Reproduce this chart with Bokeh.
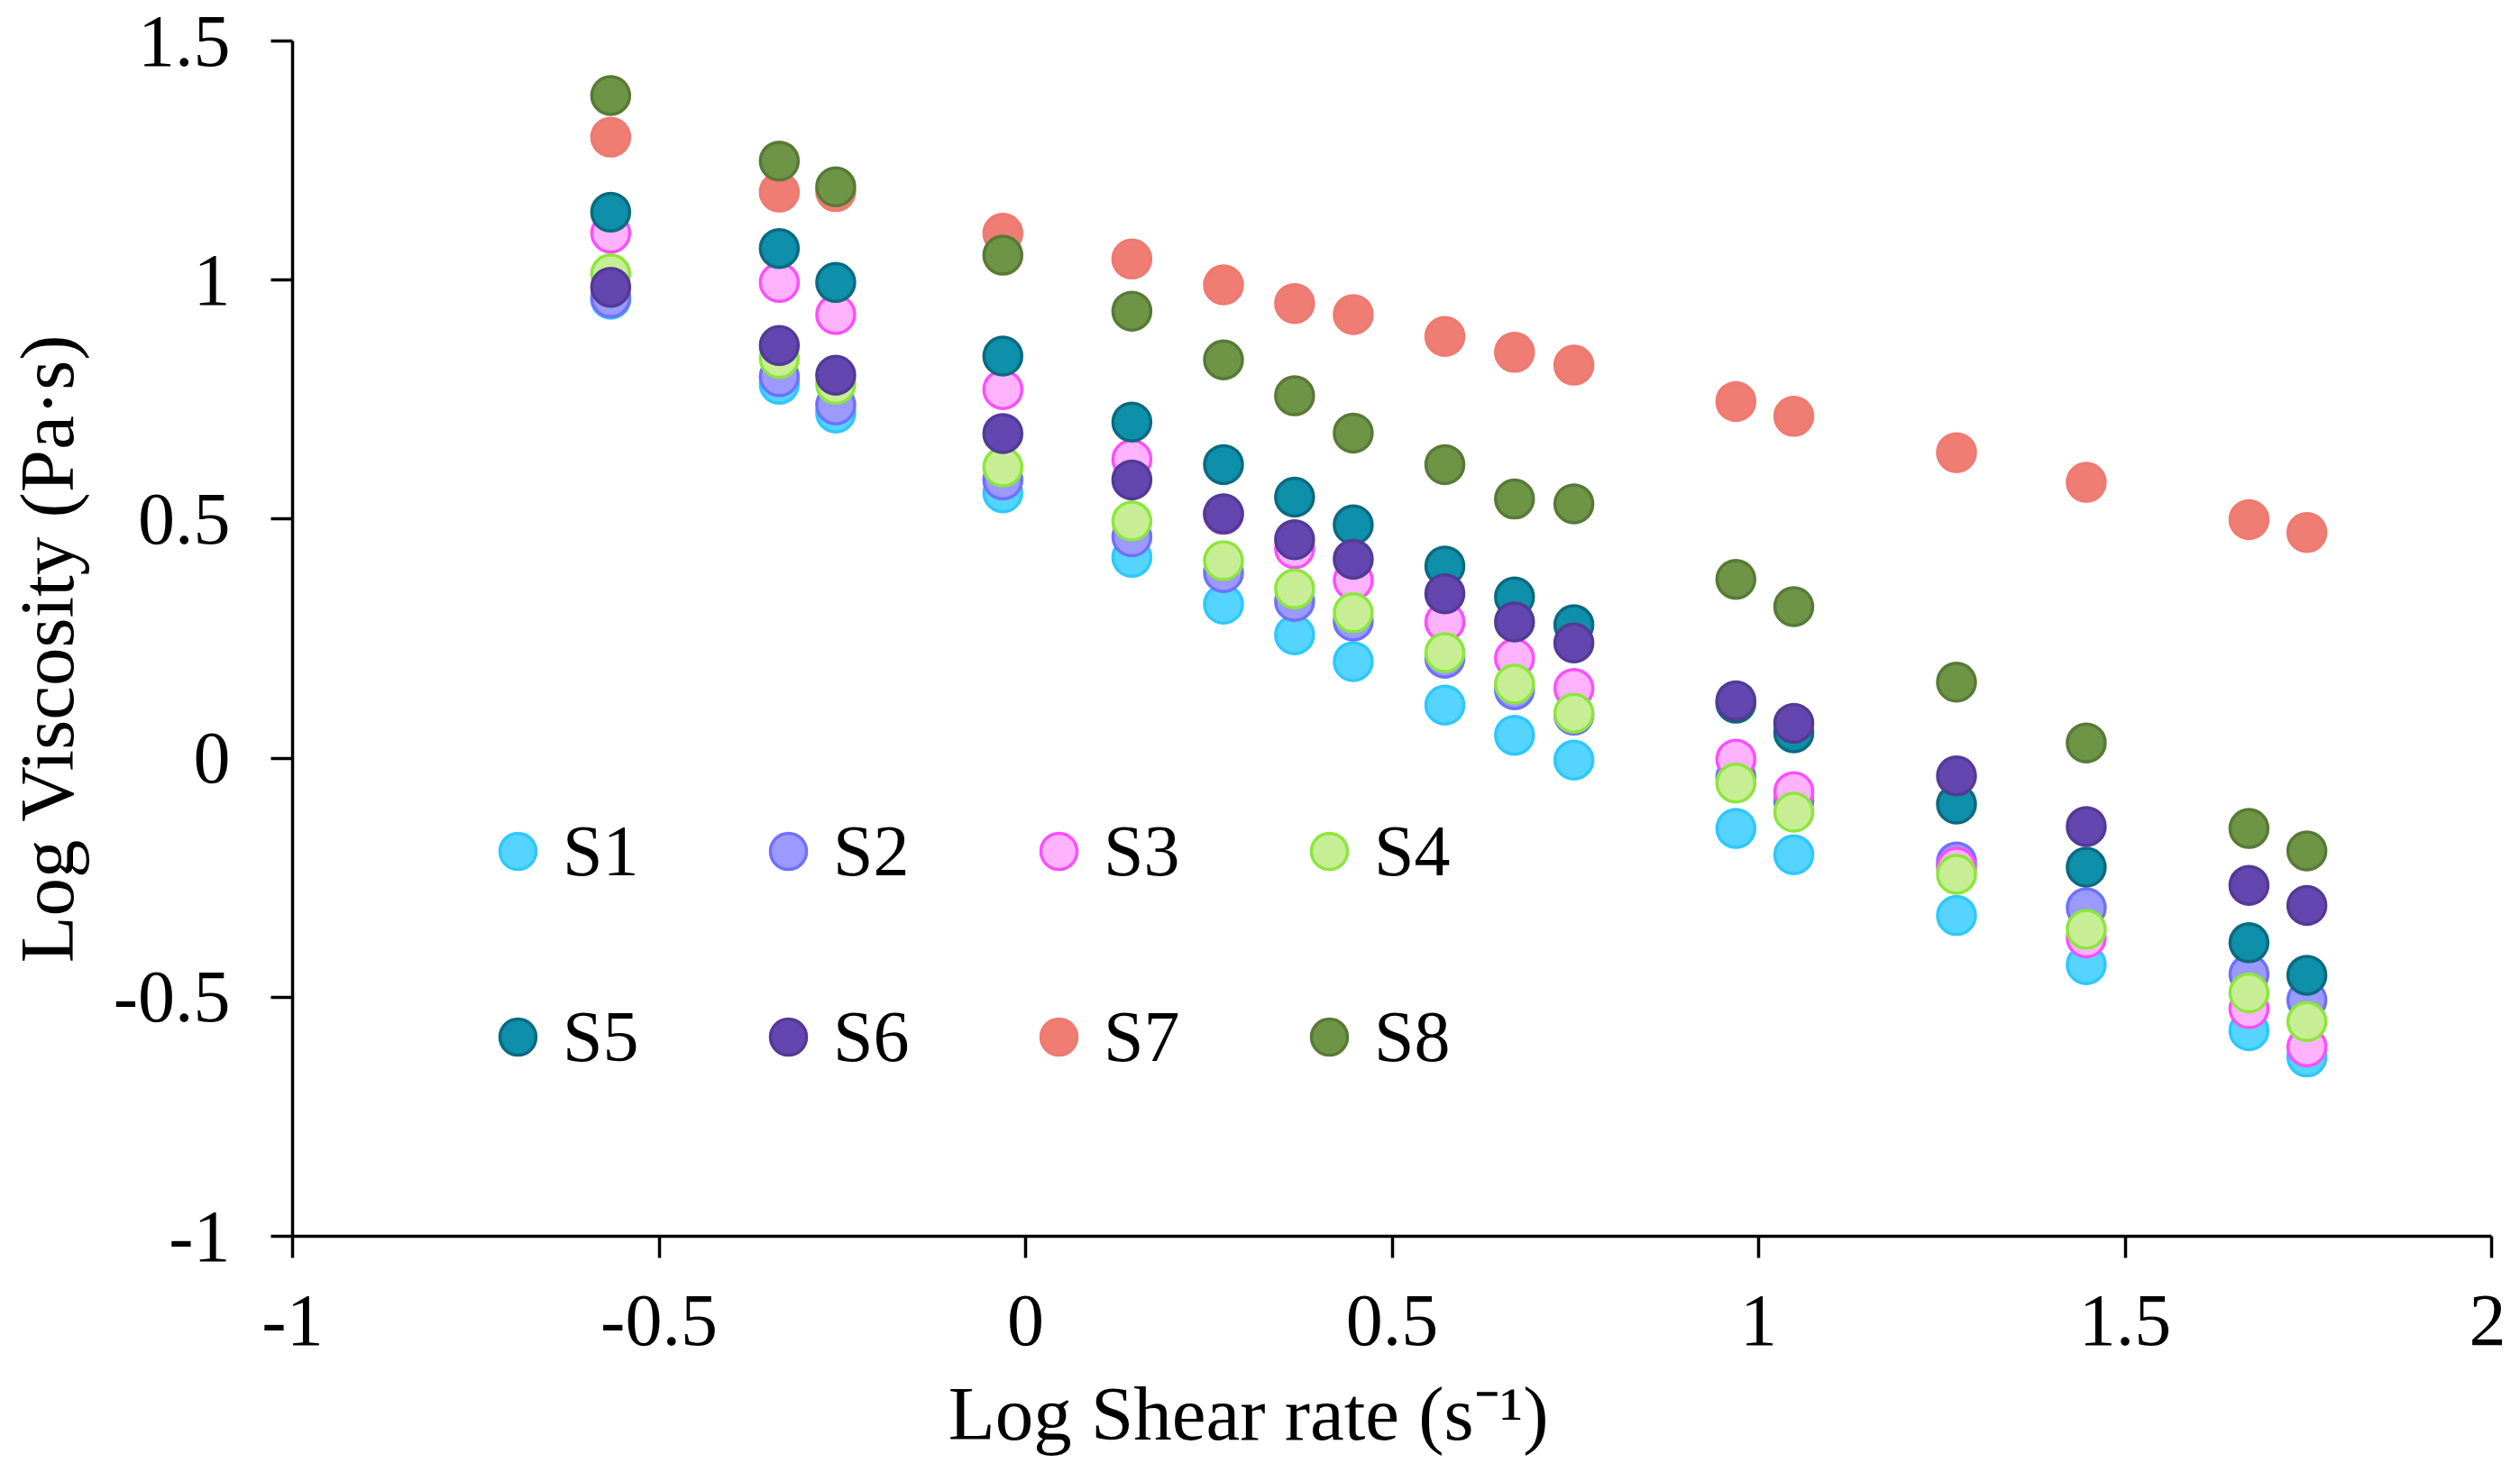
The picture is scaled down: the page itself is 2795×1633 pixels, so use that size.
from bokeh.plotting import figure
from bokeh.models import Legend, LegendItem, FixedTicker
from bokeh.embed import file_html
from bokeh.resources import INLINE

# Log shear rate (s^-1), shared by all samples
LOG_SHEAR = [-0.566, -0.336, -0.259, -0.031, 0.145, 0.270, 0.367, 0.447, 0.572,
             0.667, 0.748, 0.969, 1.048, 1.270, 1.447, 1.669, 1.748]

# Log viscosity (Pa·s) per sample
S1 = [0.960, 0.782, 0.722, 0.555, 0.420, 0.322, 0.258, 0.202, 0.111,
      0.048, -0.004, -0.147, -0.202, -0.329, -0.432, -0.570, -0.625]
S2 = [0.963, 0.798, 0.739, 0.582, 0.463, 0.388, 0.328, 0.287, 0.209,
      0.143, 0.090, -0.040, -0.090, -0.217, -0.313, -0.452, -0.506]
S3 = [1.098, 0.995, 0.928, 0.771, 0.625, 0.510, 0.438, 0.372, 0.285,
      0.209, 0.146, -0.002, -0.070, -0.228, -0.376, -0.524, -0.604]
S4 = [1.013, 0.836, 0.782, 0.609, 0.496, 0.413, 0.354, 0.304, 0.221,
      0.155, 0.094, -0.052, -0.113, -0.243, -0.358, -0.491, -0.551]
S5 = [1.142, 1.066, 0.995, 0.841, 0.703, 0.614, 0.546, 0.488, 0.402,
      0.337, 0.279, 0.115, 0.053, -0.096, -0.228, -0.386, -0.454]
S6 = [0.985, 0.863, 0.801, 0.679, 0.582, 0.511, 0.457, 0.416, 0.344,
      0.285, 0.241, 0.120, 0.073, -0.037, -0.143, -0.266, -0.308]
S7 = [1.299, 1.184, 1.185, 1.098, 1.044, 0.990, 0.951, 0.928, 0.882,
      0.849, 0.822, 0.746, 0.715, 0.639, 0.577, 0.499, 0.472]
S8 = [1.386, 1.249, 1.195, 1.052, 0.935, 0.833, 0.758, 0.680, 0.614,
      0.542, 0.532, 0.374, 0.317, 0.159, 0.032, -0.147, -0.194]

NAMES = ["S1", "S2", "S3", "S4", "S5", "S6", "S7", "S8"]
VALUES = [S1, S2, S3, S4, S5, S6, S7, S8]
FILLS = ["#55D4FF", "#9A9AFF", "#FFB3FF", "#C8EE95",
         "#0E8FAA", "#6446B0", "#F07D74", "#6E9446"]
LINES = ["#2EC8FF", "#7070FF", "#FF4DFF", "#8CE63C",
         "#0A6A80", "#523A96", "#EE7A70", "#587A36"]

X_TICKS = [-1, -0.5, 0, 0.5, 1, 1.5, 2]
X_TICK_LABELS = ["-1", "-0.5", "0", "0.5", "1", "1.5", "2"]
Y_TICKS = [-1, -0.5, 0, 0.5, 1, 1.5]
Y_TICK_LABELS = ["-1", "-0.5", "0", "0.5", "1", "1.5"]

FONT = "Liberation Serif"
NBSP = "\u00a0"

p = figure(width=2779, height=1617,
           x_range=(-1, 2), y_range=(-1, 1.5),
           output_backend="svg", toolbar_location=None, tools="",
           min_border_left=324, min_border_right=16,
           min_border_top=45, min_border_bottom=246)
p.outline_line_color = None
p.grid.visible = False
p.background_fill_color = "white"

renderers = []
for name, ys, fc, lc in zip(NAMES, VALUES, FILLS, LINES):
    r = p.scatter(LOG_SHEAR, ys, size=42, marker="circle",
                  fill_color=fc, line_color=lc, line_width=3.5)
    renderers.append(r)

p.xaxis.ticker = FixedTicker(ticks=X_TICKS)
p.yaxis.ticker = FixedTicker(ticks=Y_TICKS)
p.xaxis.major_label_overrides = {float(t): s for t, s in zip(X_TICKS, X_TICK_LABELS)}
p.yaxis.major_label_overrides = {float(t): s for t, s in zip(Y_TICKS, Y_TICK_LABELS)}

for ax in (p.xaxis[0], p.yaxis[0]):
    ax.axis_line_width = 3.5
    ax.axis_line_color = "black"
    ax.major_tick_line_width = 3.5
    ax.major_tick_line_color = "black"
    ax.major_tick_out = 24
    ax.major_tick_in = 0
    ax.minor_tick_out = 0
    ax.minor_tick_in = 0
    ax.major_label_text_font = FONT
    ax.major_label_text_font_size = "82px"
    ax.major_label_text_color = "black"
    ax.axis_label_text_font = FONT
    ax.axis_label_text_font_size = "85px"
    ax.axis_label_text_font_style = "normal"
    ax.axis_label_text_color = "black"

p.xaxis.major_label_standoff = 42
p.yaxis.major_label_standoff = 45

p.yaxis.axis_label = "Log Viscosity (Pa·s)" + NBSP
p.yaxis.axis_label_standoff = 24

# the original title sits left of the axis centre; trailing spaces shift it
p.xaxis.axis_label = "Log Shear rate (s⁻¹)" + NBSP * 15
p.xaxis.axis_label_standoff = 26

items = [LegendItem(label=n, renderers=[r]) for n, r in zip(NAMES, renderers)]
legend = Legend(items=items, location=(200, 171), orientation="horizontal", ncols=4,
                glyph_width=100, glyph_height=100, label_standoff=0,
                spacing=106, label_width=94, label_height=100,
                padding=0, margin=0, border_line_color=None,
                background_fill_alpha=0,
                label_text_font=FONT, label_text_font_size="80px",
                label_text_color="black")
p.add_layout(legend)

open("out.html", "w").write(file_html(p, INLINE))
